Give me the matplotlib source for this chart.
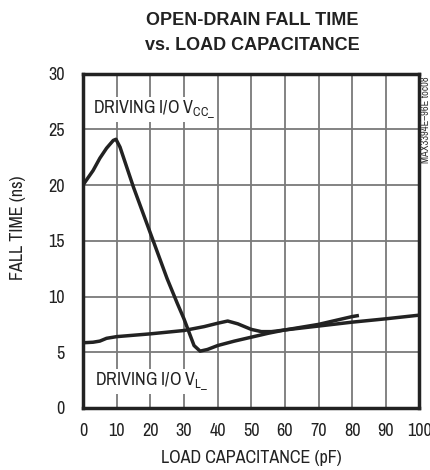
import matplotlib
matplotlib.use("Agg")
import matplotlib.pyplot as plt
from matplotlib import font_manager as fm

# pick a condensed sans font if one is installed
fam = "Liberation Sans"
condensed = False
flist = fm.fontManager.ttflist
named = sorted({f.name for f in flist if ('Narrow' in f.name or 'Condensed' in f.name)})
pref = [n for n in named if 'Liberation' in n] + [n for n in named if 'Arial' in n] + named
if pref:
    fam = pref[0]
else:
    st = sorted({f.name for f in flist if str(f.stretch) in ('condensed', 'semi-condensed', 'extra-condensed', '75', '87')})
    if st:
        fam = st[0]
        condensed = True
plt.rcParams['font.family'] = [fam, 'DejaVu Sans']
if condensed:
    plt.rcParams['font.stretch'] = 'condensed'
plt.rcParams['mathtext.fontset'] = 'custom'
plt.rcParams['mathtext.rm'] = fam

# bold family for the title
has_bold = any(f.name == fam and (f.weight in ('bold', 'semibold', 'heavy', 'black') or
                                  (isinstance(f.weight, int) and f.weight >= 600)) for f in flist)
title_fam = fam if has_bold else "Liberation Sans"

# Data
vcc_x = [0, 3, 5, 7, 9, 9.8, 11, 15, 20, 25, 28, 30, 31.5, 33, 34.8, 37, 40, 45, 50, 55, 60, 65, 70, 75, 80, 82]
vcc_y = [20, 21.3, 22.4, 23.3, 24.0, 24.1, 23.4, 19.8, 15.7, 11.6, 9.4, 8.0, 6.8, 5.6, 5.1, 5.25, 5.6, 6.0, 6.35, 6.7, 7.0, 7.25, 7.5, 7.85, 8.2, 8.3]
vl_x = [0, 3, 5, 7, 10, 20, 30, 36, 40, 43, 46, 50, 53, 56, 60, 70, 80, 90, 100]
vl_y = [5.85, 5.9, 6.0, 6.25, 6.4, 6.65, 6.95, 7.3, 7.6, 7.8, 7.55, 7.05, 6.85, 6.85, 7.0, 7.35, 7.7, 8.0, 8.33]
xticks = [0, 10, 20, 30, 40, 50, 60, 70, 80, 90, 100]
yticks = [0, 5, 10, 15, 20, 25, 30]

W, H = 431, 470
fig = plt.figure(figsize=(W / 100, H / 100), dpi=100)
ax = fig.add_axes([83/W, 1-408/H, (419.5-83)/W, (408-73.5)/H])
ax.set_xlim(0, 100)
ax.set_ylim(0, 30)
ax.set_xticks(xticks)
ax.set_yticks(yticks)
ax.grid(True, color='#7a7a7a', linewidth=1.3)
ax.set_axisbelow(True)
fs = 13 if (pref or condensed) else 12
ax.tick_params(length=0, labelsize=fs, colors='#222222')
ax.tick_params(axis='x', pad=11)
ax.tick_params(axis='y', pad=13)
for s in ax.spines.values():
    s.set_linewidth(2.5)
    s.set_color('#222222')

ax.plot(vcc_x, vcc_y, color='#222222', linewidth=2.5, solid_capstyle='butt', zorder=3)
ax.plot(vl_x, vl_y, color='#222222', linewidth=2.5, solid_capstyle='butt', zorder=3)

bb = dict(facecolor='white', edgecolor='none', pad=1)
ax.text(3, 26.8, r"DRIVING I/O V$_{\mathregular{CC\_}}$", fontsize=fs, va='center', ha='left',
        color='#222222', bbox=bb, zorder=4)
ax.text(3.5, 2.4, r"DRIVING I/O V$_{\mathregular{L\_}}$", fontsize=fs, va='center', ha='left',
        color='#222222', bbox=bb, zorder=4)

ax.set_xlabel("LOAD CAPACITANCE (pF)", fontsize=fs, color='#222222')
ax.set_ylabel("FALL TIME (ns)", fontsize=fs, color='#222222')
ax.xaxis.set_label_coords((251 - 83) / (419.5 - 83), -(458 - 408) / (408 - 73.5))
ax.yaxis.set_label_coords(-(83 - 18.5) / (419.5 - 83), (408 - 228) / (408 - 73.5))
ax.xaxis.label.set_va('center')
ax.yaxis.label.set_va('center')

tfs = 14.5 if title_fam == fam and (pref or condensed) else 13
for ty, line in [(20.5, "OPEN-DRAIN FALL TIME"), (45, "vs. LOAD CAPACITANCE")]:
    fig.text(252/W, 1-ty/H, line, ha='center', va='center', fontsize=tfs,
             fontweight='bold', color='#222222', family=[title_fam, 'DejaVu Sans'])
fig.text(426/W, 1-120/H, "MAX3394E\u201396E toc08", rotation=90, ha='center', va='center',
         fontsize=7.5, color='#333333')

fig.savefig("out.png", dpi=100)
